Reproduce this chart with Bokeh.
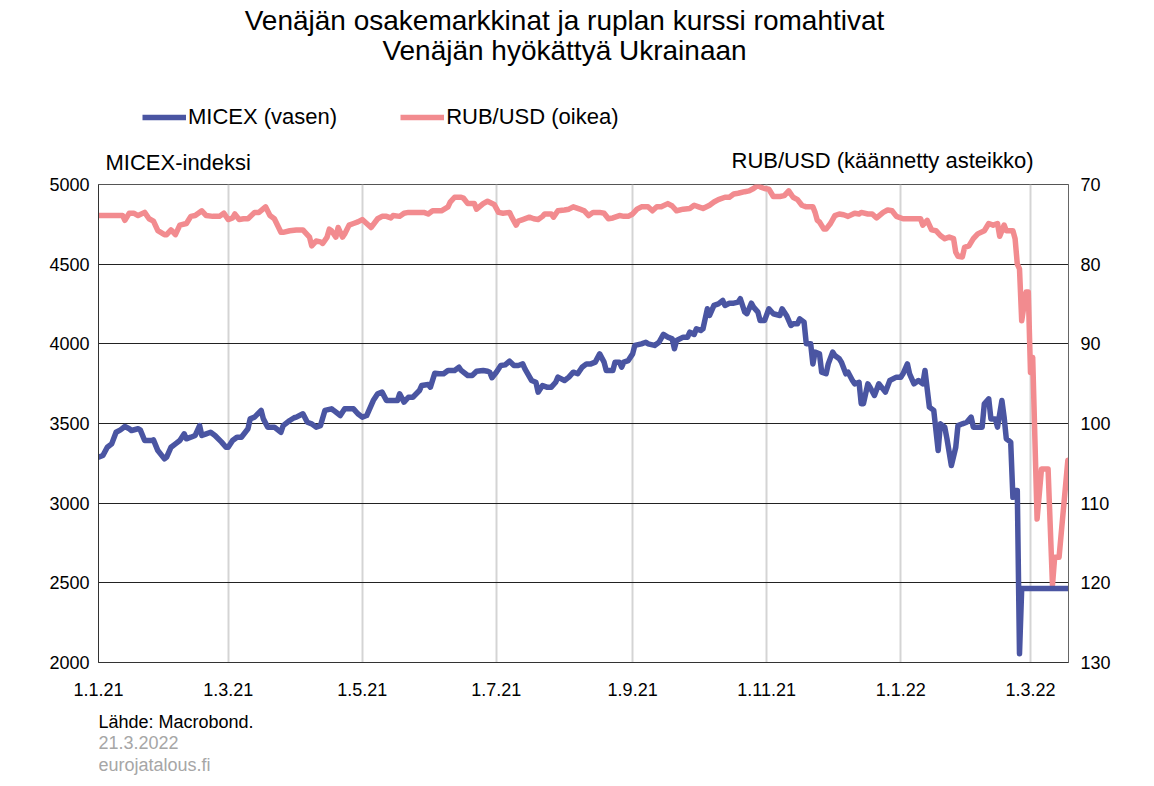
import pandas as pd
from bokeh.plotting import figure
from bokeh.layouts import column
from bokeh.models import Range1d, LinearAxis, FixedTicker, Label, Legend, LegendItem
from bokeh.embed import file_html
from bokeh.resources import INLINE

# ---------------- data ----------------
micex_dates = [
    "2021-01-01", "2021-01-03", "2021-01-05", "2021-01-07", "2021-01-09", "2021-01-11", "2021-01-13",
    "2021-01-15", "2021-01-16", "2021-01-19", "2021-01-20", "2021-01-22", "2021-01-25", "2021-01-26",
    "2021-01-28", "2021-01-31", "2021-02-01", "2021-02-03", "2021-02-05", "2021-02-07", "2021-02-09",
    "2021-02-10", "2021-02-12", "2021-02-14", "2021-02-16", "2021-02-17", "2021-02-19", "2021-02-21",
    "2021-02-23", "2021-02-26", "2021-02-28", "2021-03-01", "2021-03-03", "2021-03-05", "2021-03-07",
    "2021-03-10", "2021-03-11", "2021-03-13", "2021-03-16", "2021-03-17", "2021-03-19", "2021-03-22",
    "2021-03-25", "2021-03-26", "2021-03-29", "2021-03-31", "2021-04-01", "2021-04-04", "2021-04-06",
    "2021-04-08", "2021-04-10", "2021-04-12", "2021-04-14", "2021-04-17", "2021-04-18", "2021-04-21",
    "2021-04-23", "2021-04-25", "2021-04-27", "2021-04-29", "2021-05-01", "2021-05-03", "2021-05-06",
    "2021-05-08", "2021-05-10", "2021-05-12", "2021-05-15", "2021-05-17", "2021-05-18", "2021-05-20",
    "2021-05-22", "2021-05-24", "2021-05-27", "2021-05-28", "2021-05-31", "2021-06-01", "2021-06-03",
    "2021-06-05", "2021-06-07", "2021-06-09", "2021-06-12", "2021-06-14", "2021-06-15", "2021-06-18",
    "2021-06-20", "2021-06-22", "2021-06-25", "2021-06-27", "2021-06-28", "2021-06-29", "2021-07-01",
    "2021-07-03", "2021-07-05", "2021-07-07", "2021-07-09", "2021-07-11", "2021-07-13", "2021-07-14",
    "2021-07-17", "2021-07-19", "2021-07-20", "2021-07-22", "2021-07-24", "2021-07-26", "2021-07-28",
    "2021-07-29", "2021-08-01", "2021-08-03", "2021-08-05", "2021-08-07", "2021-08-09", "2021-08-11",
    "2021-08-13", "2021-08-15", "2021-08-17", "2021-08-19", "2021-08-20", "2021-08-23", "2021-08-24",
    "2021-08-26", "2021-08-27", "2021-08-28", "2021-08-30", "2021-09-01", "2021-09-02", "2021-09-05",
    "2021-09-07", "2021-09-08", "2021-09-11", "2021-09-13", "2021-09-15", "2021-09-17", "2021-09-19",
    "2021-09-20", "2021-09-21", "2021-09-24", "2021-09-26", "2021-09-27", "2021-09-29", "2021-09-30",
    "2021-10-02", "2021-10-03", "2021-10-05", "2021-10-06", "2021-10-08", "2021-10-10", "2021-10-12",
    "2021-10-13", "2021-10-15", "2021-10-17", "2021-10-19", "2021-10-20", "2021-10-22", "2021-10-23",
    "2021-10-25", "2021-10-26", "2021-10-28", "2021-10-29", "2021-10-31", "2021-11-02", "2021-11-04",
    "2021-11-07", "2021-11-08", "2021-11-10", "2021-11-12", "2021-11-13", "2021-11-15", "2021-11-16",
    "2021-11-18", "2021-11-19", "2021-11-21", "2021-11-22", "2021-11-23", "2021-11-25", "2021-11-26",
    "2021-11-28", "2021-11-29", "2021-12-01", "2021-12-02", "2021-12-04", "2021-12-05", "2021-12-07",
    "2021-12-08", "2021-12-10", "2021-12-11", "2021-12-13", "2021-12-14", "2021-12-15", "2021-12-17",
    "2021-12-18", "2021-12-20", "2021-12-22", "2021-12-25", "2021-12-27", "2021-12-30", "2022-01-01",
    "2022-01-02", "2022-01-04", "2022-01-05", "2022-01-07", "2022-01-09", "2022-01-11", "2022-01-12",
    "2022-01-14", "2022-01-16", "2022-01-18", "2022-01-19", "2022-01-21", "2022-01-22", "2022-01-24",
    "2022-01-26", "2022-01-27", "2022-01-29", "2022-01-31", "2022-02-02", "2022-02-03", "2022-02-05",
    "2022-02-07", "2022-02-08", "2022-02-10", "2022-02-11", "2022-02-13", "2022-02-14", "2022-02-16",
    "2022-02-17", "2022-02-18", "2022-02-20", "2022-02-21", "2022-02-22", "2022-02-23", "2022-02-24",
    "2022-02-25", "2022-03-18",
]
micex_values = [
    3289, 3299, 3351, 3372, 3445, 3460, 3481,
    3467, 3456, 3467, 3460, 3393, 3393, 3397,
    3330, 3278, 3289, 3351, 3372, 3393, 3435,
    3404, 3414, 3425, 3487, 3425, 3435, 3445,
    3425, 3383, 3351, 3351, 3393, 3414, 3414,
    3467, 3529, 3540, 3582, 3529, 3477, 3477,
    3445, 3487, 3519, 3536, 3540, 3561, 3508,
    3498, 3477, 3487, 3582, 3592, 3582, 3550,
    3592, 3592, 3592, 3561, 3540, 3550, 3644,
    3686, 3697, 3644, 3644, 3644, 3686, 3634,
    3665, 3665, 3707, 3738, 3745, 3728, 3816,
    3812, 3812, 3833, 3833, 3853, 3833, 3801,
    3801, 3828, 3833, 3828, 3822, 3787, 3822,
    3864, 3868, 3891, 3864, 3864, 3874, 3843,
    3770, 3759, 3697, 3738, 3728, 3728, 3759,
    3791, 3770, 3791, 3822, 3812, 3853, 3874,
    3874, 3885, 3937, 3885, 3833, 3833, 3885,
    3885, 3853, 3885, 3895, 3937, 3990, 4000,
    4010, 4000, 3990, 4010, 4059, 4042, 4031,
    3969, 4021, 4042, 4042, 4073, 4059, 4094,
    4084, 4094, 4220, 4178, 4241, 4251, 4272,
    4241, 4255, 4255, 4262, 4283, 4199, 4189,
    4255, 4230, 4199, 4146, 4146, 4220, 4189,
    4178, 4220, 4178, 4115, 4126, 4126, 4157,
    4136, 4000, 4000, 3874, 3948, 3937, 3822,
    3812, 3874, 3948, 3927, 3906, 3885, 3812,
    3822, 3770, 3749, 3759, 3624, 3624, 3749,
    3728, 3676, 3749, 3697, 3770, 3791, 3791,
    3812, 3874, 3812, 3749, 3770, 3749, 3833,
    3603, 3582, 3330, 3498, 3477, 3404, 3236,
    3351, 3487, 3498, 3508, 3540, 3477, 3477,
    3477, 3624, 3655, 3529, 3529, 3477, 3644,
    3540, 3404, 3383, 3037, 3079, 3079, 2055,
    2465, 2465,
]

rub_dates = [
    "2021-01-01", "2021-01-12", "2021-01-13", "2021-01-15", "2021-01-17", "2021-01-19", "2021-01-22",
    "2021-01-24", "2021-01-26", "2021-01-28", "2021-01-31", "2021-02-01", "2021-02-03", "2021-02-05",
    "2021-02-07", "2021-02-10", "2021-02-12", "2021-02-14", "2021-02-17", "2021-02-19", "2021-02-22",
    "2021-02-25", "2021-02-27", "2021-03-01", "2021-03-03", "2021-03-04", "2021-03-06", "2021-03-08",
    "2021-03-10", "2021-03-13", "2021-03-15", "2021-03-18", "2021-03-20", "2021-03-22", "2021-03-25",
    "2021-03-26", "2021-03-29", "2021-04-01", "2021-04-04", "2021-04-05", "2021-04-07", "2021-04-08",
    "2021-04-10", "2021-04-12", "2021-04-13", "2021-04-15", "2021-04-16", "2021-04-17", "2021-04-19",
    "2021-04-20", "2021-04-22", "2021-04-23", "2021-04-25", "2021-04-27", "2021-04-29", "2021-05-01",
    "2021-05-03", "2021-05-05", "2021-05-08", "2021-05-10", "2021-05-12", "2021-05-14", "2021-05-15",
    "2021-05-18", "2021-05-20", "2021-05-22", "2021-05-24", "2021-05-27", "2021-05-29", "2021-05-31",
    "2021-06-02", "2021-06-04", "2021-06-06", "2021-06-09", "2021-06-10", "2021-06-12", "2021-06-15",
    "2021-06-16", "2021-06-18", "2021-06-21", "2021-06-22", "2021-06-25", "2021-06-27", "2021-06-30",
    "2021-07-02", "2021-07-04", "2021-07-07", "2021-07-08", "2021-07-10", "2021-07-11", "2021-07-13",
    "2021-07-16", "2021-07-18", "2021-07-20", "2021-07-22", "2021-07-23", "2021-07-26", "2021-07-27",
    "2021-07-29", "2021-08-01", "2021-08-03", "2021-08-05", "2021-08-08", "2021-08-10", "2021-08-12",
    "2021-08-14", "2021-08-17", "2021-08-19", "2021-08-21", "2021-08-23", "2021-08-26", "2021-08-28",
    "2021-08-30", "2021-09-01", "2021-09-03", "2021-09-05", "2021-09-08", "2021-09-10", "2021-09-12",
    "2021-09-14", "2021-09-17", "2021-09-19", "2021-09-21", "2021-09-24", "2021-09-27", "2021-09-29",
    "2021-10-01", "2021-10-03", "2021-10-06", "2021-10-08", "2021-10-10", "2021-10-13", "2021-10-15",
    "2021-10-17", "2021-10-19", "2021-10-22", "2021-10-24", "2021-10-26", "2021-10-28", "2021-10-29",
    "2021-10-31", "2021-11-02", "2021-11-04", "2021-11-07", "2021-11-09", "2021-11-11", "2021-11-13",
    "2021-11-15", "2021-11-17", "2021-11-19", "2021-11-22", "2021-11-23", "2021-11-24", "2021-11-25",
    "2021-11-27", "2021-11-28", "2021-11-30", "2021-12-02", "2021-12-04", "2021-12-06", "2021-12-08",
    "2021-12-11", "2021-12-13", "2021-12-14", "2021-12-17", "2021-12-19", "2021-12-21", "2021-12-24",
    "2021-12-26", "2021-12-28", "2021-12-30", "2022-01-02", "2022-01-05", "2022-01-08", "2022-01-10",
    "2022-01-11", "2022-01-13", "2022-01-15", "2022-01-17", "2022-01-19", "2022-01-21", "2022-01-23",
    "2022-01-25", "2022-01-26", "2022-01-27", "2022-01-29", "2022-01-30", "2022-02-01", "2022-02-03",
    "2022-02-05", "2022-02-08", "2022-02-10", "2022-02-12", "2022-02-14", "2022-02-15", "2022-02-17",
    "2022-02-18", "2022-02-21", "2022-02-22", "2022-02-23", "2022-02-24", "2022-02-25", "2022-02-27",
    "2022-02-28", "2022-03-01", "2022-03-02", "2022-03-04", "2022-03-06", "2022-03-09", "2022-03-11",
    "2022-03-12", "2022-03-14", "2022-03-18",
]
rub_values = [
    73.9, 73.9, 74.5, 73.6, 73.6, 73.9, 73.5,
    74.3, 74.6, 75.8, 76.3, 76.3, 75.7, 76.3,
    75.1, 74.9, 74.0, 73.9, 73.3, 73.9, 74.0,
    74.0, 73.6, 74.4, 74.2, 73.7, 74.4, 74.3,
    74.3, 73.5, 73.5, 72.8, 73.9, 74.3, 76.0,
    76.0, 75.8, 75.7, 75.7, 76.0, 76.6, 77.7,
    77.1, 77.2, 77.4, 76.6, 75.6, 75.8, 76.6,
    75.4, 76.6, 76.2, 75.1, 74.9, 74.7, 74.4,
    74.9, 75.4, 74.3, 74.0, 74.0, 74.2, 73.9,
    74.0, 73.6, 73.5, 73.5, 73.5, 73.5, 73.7,
    73.3, 73.3, 73.3, 72.8, 72.2, 71.6, 71.6,
    71.7, 72.4, 72.4, 73.1, 72.4, 72.1, 72.5,
    73.5, 73.6, 73.5, 74.1, 75.1, 74.6, 74.4,
    74.1, 74.3, 74.4, 74.0, 73.7, 73.7, 74.1,
    73.3, 73.2, 73.1, 72.8, 73.1, 73.3, 73.9,
    73.5, 73.5, 73.6, 74.3, 74.2, 73.9, 74.0,
    74.0, 73.7, 73.1, 72.8, 72.8, 73.3, 72.8,
    72.8, 72.4, 72.7, 73.3, 73.1, 73.0, 72.6,
    72.8, 73.0, 72.6, 72.2, 71.9, 71.6, 71.6,
    71.2, 71.1, 70.9, 70.8, 70.5, 70.1, 70.3,
    70.5, 70.6, 71.5, 71.5, 71.4, 70.8, 71.6,
    71.9, 72.6, 72.8, 72.8, 73.5, 74.5, 74.7,
    75.6, 75.6, 74.9, 73.9, 73.7, 73.8, 74.0,
    73.6, 73.7, 73.5, 73.7, 73.7, 74.2, 73.5,
    73.2, 73.3, 74.0, 74.3, 74.3, 74.3, 74.3,
    75.1, 74.5, 75.7, 75.8, 76.4, 76.8, 76.6,
    76.8, 78.5, 79.0, 79.1, 77.9, 77.7, 76.8,
    76.2, 75.8, 74.9, 75.1, 74.9, 76.5, 75.1,
    75.8, 75.8, 76.8, 80.0, 80.6, 87.1, 83.5,
    83.5, 93.6, 91.7, 112.0, 105.7, 105.7, 120.3,
    116.8, 116.8, 104.6,
]

x_start_date = "2021-01-01"
x_end_date = "2022-03-18 07:00"
x_tick_dates = ["2021-01-01", "2021-03-01", "2021-05-01", "2021-07-01",
                "2021-09-01", "2021-11-01", "2022-01-01", "2022-03-01"]
x_tick_labels = ["1.1.21", "1.3.21", "1.5.21", "1.7.21", "1.9.21", "1.11.21", "1.1.22", "1.3.22"]
micex_ticks = [2000, 2500, 3000, 3500, 4000, 4500, 5000]
rub_ticks = [70, 80, 90, 100, 110, 120, 130]

title_lines = ["Venäjän osakemarkkinat ja ruplan kurssi romahtivat", "Venäjän hyökättyä Ukrainaan"]
series_names = ["MICEX (vasen)", "RUB/USD (oikea)"]
left_axis_title = "MICEX-indeksi"
right_axis_title = "RUB/USD (käännetty asteikko)"
notes = ["Lähde: Macrobond.", "21.3.2022", "eurojatalous.fi"]

# ---------------- helpers ----------------
origin = pd.Timestamp(x_start_date)


def to_days(dates):
    return [(pd.Timestamp(d) - origin) / pd.Timedelta(days=1) for d in dates]


FONT = "Liberation Sans"
BLUE = "#4a55a2"
PINK = "#f28b8f"
LW = 5.5
W = 1154

micex_x = to_days(micex_dates)
rub_x = to_days(rub_dates)
tick_x = to_days(x_tick_dates)


def blank(height):
    f = figure(width=W, height=height, output_backend="svg", toolbar_location=None,
               x_axis_location=None, y_axis_location=None,
               x_range=Range1d(0, 1), y_range=Range1d(0, 1),
               min_border=0, outline_line_color=None)
    f.title.visible = False
    f.grid.visible = False
    return f


# screen positions below are relative to the plot frame (aligned by the column layout)
def add_text(f, x, y, text, size, align="left", color="black"):
    f.add_layout(Label(x=x, y=y, x_units="screen", y_units="screen", text=text,
                       text_align=align, text_baseline="middle", text_font=FONT,
                       text_font_size=size, text_color=color))


# ---------------- header: title, legend, axis titles ----------------
head = blank(174)
add_text(head, 466, 154, title_lines[0], "28px", "center")
add_text(head, 466, 124, title_lines[1], "28px", "center")
add_text(head, 7, 12, left_axis_title, "22px")
add_text(head, 935, 14, right_axis_title, "22px", "right")

# legend samples: the real series, drawn outside this header's visible range
h_mic = head.line(micex_x, micex_values, line_color=BLUE, line_width=LW)
h_rub = head.line(rub_x, rub_values, line_color=PINK, line_width=LW)
legend = Legend(items=[LegendItem(label=series_names[0], renderers=[h_mic]),
                       LegendItem(label=series_names[1], renderers=[h_rub])],
                orientation="horizontal", location=(44, 44), glyph_width=44, glyph_height=22,
                label_standoff=2, spacing=63, padding=0, margin=0,
                border_line_color=None, background_fill_alpha=0,
                label_text_font=FONT, label_text_font_size="22px", label_text_color="black")
head.add_layout(legend, "center")

# ---------------- main chart ----------------
p = figure(width=W, height=528, output_backend="svg", toolbar_location=None,
           x_range=Range1d(0, to_days([x_end_date])[0]),
           y_range=Range1d(micex_ticks[0], micex_ticks[-1]),
           min_border_left=98, min_border_right=86, min_border_top=10, min_border_bottom=40)
p.title.visible = False
p.extra_y_ranges = {"rub": Range1d(start=rub_ticks[-1], end=rub_ticks[0])}
p.outline_line_color = "#555555"
p.outline_line_width = 1

p.xgrid.ticker = FixedTicker(ticks=tick_x[1:])
p.xgrid.grid_line_color = "#d4d4d4"
p.xgrid.grid_line_width = 2
p.ygrid.ticker = FixedTicker(ticks=micex_ticks)
p.ygrid.grid_line_color = "#222222"
p.ygrid.grid_line_width = 1

p.xaxis.ticker = FixedTicker(ticks=tick_x)
p.xaxis.major_label_overrides = {t: lab for t, lab in zip(tick_x, x_tick_labels)}
p.xaxis.major_label_standoff = 14
p.yaxis.ticker = FixedTicker(ticks=micex_ticks)
p.yaxis.major_label_standoff = 3

ax_r = LinearAxis(y_range_name="rub", ticker=FixedTicker(ticks=rub_ticks))
ax_r.major_label_standoff = 6
p.add_layout(ax_r, "right")

for ax in p.xaxis + p.yaxis + [ax_r]:
    ax.major_tick_line_color = None
    ax.minor_tick_line_color = None
    ax.axis_line_color = "#333333"
    ax.major_label_text_font = FONT
    ax.major_label_text_font_size = "18px"
    ax.major_label_text_color = "black"
ax_r.axis_line_color = "#666666"

p.line(rub_x, rub_values, y_range_name="rub", line_color=PINK, line_width=LW,
       line_join="round", line_cap="round")
p.line(micex_x, micex_values, line_color=BLUE, line_width=LW,
       line_join="round", line_cap="round")

# ---------------- footer: source notes ----------------
foot = blank(84)
add_text(foot, 0, 65, notes[0], "18px")
add_text(foot, 0, 44, notes[1], "18px", color="#a6a6a6")
add_text(foot, 0, 22, notes[2], "18px", color="#a6a6a6")

layout = column(head, p, foot, spacing=0)
open("out.html", "w").write(file_html(layout, INLINE))
